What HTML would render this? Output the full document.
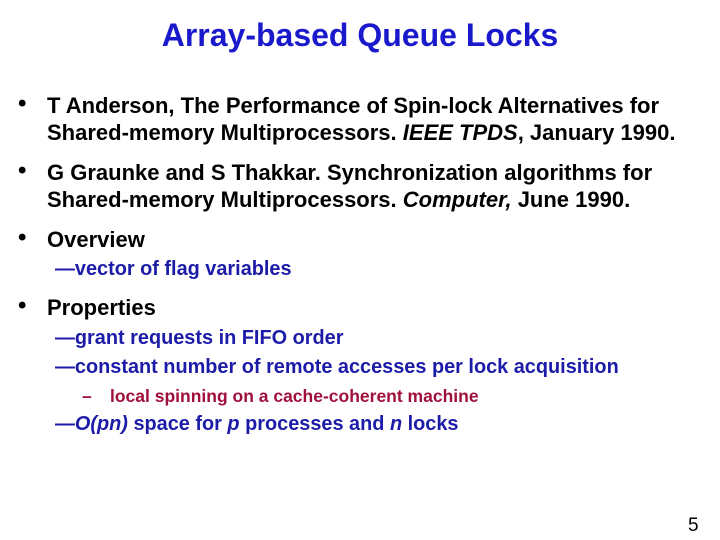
<!DOCTYPE html>
<html><head><meta charset="utf-8"><style>
body{margin:0;width:720px;height:540px;background:#fff;position:relative;overflow:hidden;font-family:"Liberation Sans",Arial,sans-serif;font-weight:bold}
div{position:absolute;white-space:nowrap;line-height:1}
.b{font-size:22px;color:#000;left:47px}
.d{font-size:24px;color:#000;left:18px}
.s{font-size:19.9px;color:#1c1ca8;left:55px}
.r{font-size:17.5px;color:#a0103c}
</style></head><body>
<div style="left:0;width:720px;text-align:center;top:19px;font-size:32px;color:#1a1acc">Array-based Queue Locks</div>
<div class="d" style="top:92px">•</div>
<div class="b" style="top:95px">T Anderson, The Performance of Spin-lock Alternatives for</div>
<div class="b" style="top:122px">Shared-memory Multiprocessors. <i>IEEE TPDS</i>, January 1990.</div>
<div class="d" style="top:159px">•</div>
<div class="b" style="top:162px">G Graunke and S Thakkar. Synchronization algorithms for</div>
<div class="b" style="top:189px">Shared-memory Multiprocessors. <i>Computer,</i> June 1990.</div>
<div class="d" style="top:226px">•</div>
<div class="b" style="top:229px">Overview</div>
<div class="s" style="top:260px">—vector of flag variables</div>
<div class="d" style="top:294px">•</div>
<div class="b" style="top:297px">Properties</div>
<div class="s" style="top:329px">—grant requests in FIFO order</div>
<div class="s" style="top:358px">—constant number of remote accesses per lock acquisition</div>
<div class="r" style="left:82px;top:388px">–</div>
<div class="r" style="left:110px;top:388px">local spinning on a cache-coherent machine</div>
<div class="s" style="top:415px">—<i>O(pn)</i> space for <i>p</i> processes and <i>n</i> locks</div>
<div style="left:688px;top:516px;font-size:19px;font-weight:normal;color:#000">5</div>
</body></html>
